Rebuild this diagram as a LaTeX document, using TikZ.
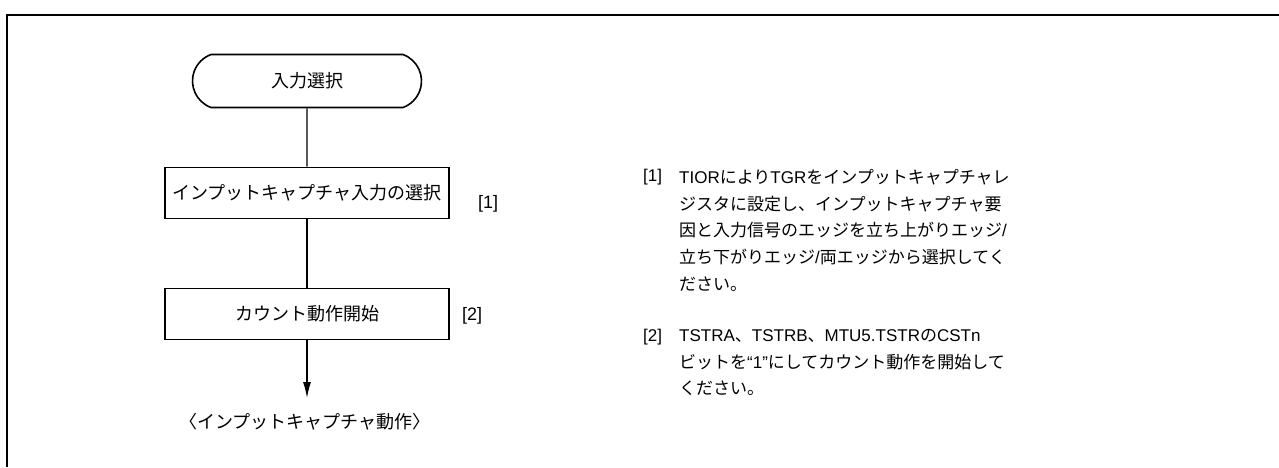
\documentclass[tikz,border=0pt]{standalone}
\usepackage{fontspec}
\setmainfont{Noto Sans CJK JP}
\newfontfamily\latfont{Liberation Sans}
\usetikzlibrary{shapes.misc,arrows.meta}
\newcommand{\la}[1]{{\latfont #1}}
\tikzset{
    termbox/.style={draw, rounded rectangle, rounded rectangle arc length=140, line width=1.6pt, minimum width=229pt, minimum height=53pt, inner sep=0pt, font=\fontsize{18}{22}\selectfont},
    flowbox/.style={draw, line width=1.6pt, minimum width=284pt, minimum height=51pt, inner sep=0pt, font=\fontsize{18}{22}\selectfont},
    flowline/.style={line width=1.1pt},
    tag/.style={inner sep=0pt, font=\fontsize{18}{22}\selectfont\latfont},
    note/.style={anchor=north west, inner sep=0pt, align=left, font=\fontsize{17}{26.7}\selectfont},
}
\begin{document}
\begin{tikzpicture}[x=1pt, y=1pt]
    \useasboundingbox (0,0) rectangle (1279,-467);
    % Frame (top and left only)
    \draw[line width=2.5pt] (1279,-15) -- (7,-15) -- (7,-467);

    % Flow
    \node[termbox] (start) at (307,-81) {入力選択};
    \node[flowbox] (sel) at (307,-193) {インプットキャプチャ入力の選択};
    \node[flowbox] (cnt) at (307,-314) {カウント動作開始};
    \coordinate (tip) at (307,-398);
    \node[inner sep=0pt, font=\fontsize{18}{22}\selectfont] (res) at (305,-422) {〈インプットキャプチャ動作〉};

    \draw[flowline] (start) -- (sel);
    \draw[flowline] (sel) -- (cnt);
    \draw[flowline, -{Latex[length=16pt, width=8pt]}] (cnt) -- (tip);

    % Step tags
    \node[tag] (tag1) at (488,-204) {[1]};
    \node[tag] (tag2) at (472,-316) {[2]};

    % Notes
    \node[note, font=\fontsize{17}{26.7}\selectfont\latfont] (n1tag) at (643,-169) {[1]};
    \node[note] (n1) at (679,-169) {\la{TIOR}により\la{TGR}をインプットキャプチャレ\\
        ジスタに設定し、インプットキャプチャ要\\
        因と入力信号のエッジを立ち上がりエッジ\la{/}\\
        立ち下がりエッジ\la{/}両エッジから選択してく\\
        ださい。};
    \node[note, font=\fontsize{17}{26.7}\selectfont\latfont] (n2tag) at (643,-329) {[2]};
    \node[note] (n2) at (679,-329) {\la{TSTRA}、\la{TSTRB}、\la{MTU5.TSTR}の\la{CSTn}\\
        ビットを\la{“1”}にしてカウント動作を開始して\\
        ください。};
\end{tikzpicture}
\end{document}
